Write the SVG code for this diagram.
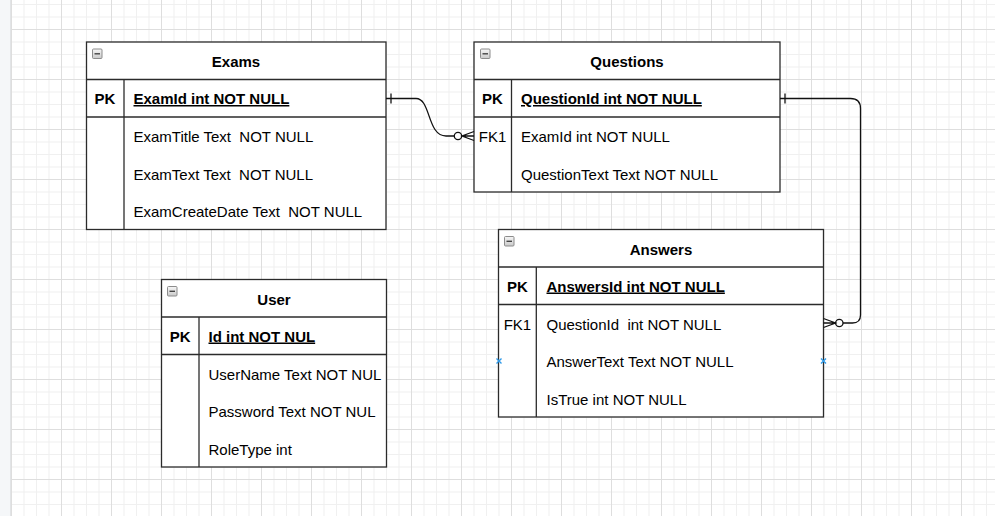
<svg xmlns="http://www.w3.org/2000/svg" width="995" height="516" viewBox="0 0 995 516">
<defs>
<pattern id="grid" x="11" y="29" width="50" height="50" patternUnits="userSpaceOnUse">
<rect width="50" height="50" fill="#ffffff"/>
<rect x="12.5" y="0" width="1" height="50" fill="#f0f0f0"/>
<rect x="25" y="0" width="1" height="50" fill="#f0f0f0"/>
<rect x="37.5" y="0" width="1" height="50" fill="#f0f0f0"/>
<rect x="0" y="12.5" width="50" height="1" fill="#f0f0f0"/>
<rect x="0" y="25" width="50" height="1" fill="#f0f0f0"/>
<rect x="0" y="37.5" width="50" height="1" fill="#f0f0f0"/>
<rect x="0" y="0" width="1" height="50" fill="#dedede"/>
<rect x="0" y="0" width="50" height="1" fill="#dedede"/>
</pattern>
<linearGradient id="icon" x1="0" y1="0" x2="0" y2="1">
<stop offset="0" stop-color="#f7f7f7"/>
<stop offset="1" stop-color="#c9c9c9"/>
</linearGradient>
<g id="collapse">
<rect x="0.5" y="0.5" width="9.5" height="9.5" rx="1" fill="url(#icon)" stroke="#8c8c8c" stroke-width="1"/>
<line x1="2.5" y1="5.3" x2="8" y2="5.3" stroke="#444" stroke-width="1.4"/>
</g>
</defs>
<style>
.box{fill:#ffffff;stroke:#2b2b2b;stroke-width:1.3}
.ln{stroke:#2b2b2b;stroke-width:1.3;fill:none}
text{font-family:"Liberation Sans",Arial,sans-serif;font-size:15px;fill:#000}
.title{font-weight:bold;text-anchor:middle}
.key{font-weight:bold;text-anchor:middle}
.fk{text-anchor:middle}
.pk{font-weight:bold;text-decoration:underline}
.txt{white-space:pre}
.edge{stroke:#111;stroke-width:1.3;fill:none}
.cross{stroke:#2f9ae8;stroke-width:1.4}
</style>
<rect width="995" height="516" fill="url(#grid)"/>
<rect x="0" y="0" width="11" height="516" fill="#f5f7f9"/>
<rect x="10" y="0" width="1" height="516" fill="#e2e4e6"/>

<g id="exams">
<rect class="box" x="86.5" y="42" width="299.5" height="187.5"/>
<line class="ln" x1="86.5" y1="79.5" x2="386" y2="79.5"/>
<line class="ln" x1="86.5" y1="117" x2="386" y2="117"/>
<line class="ln" x1="124" y1="79.5" x2="124" y2="229.5"/>
<use href="#collapse" x="92" y="48.5"/>
<text class="title" x="236" y="67">Exams</text>
<text class="key" x="105" y="104">PK</text>
<text class="pk" x="133.5" y="104">ExamId int NOT NULL</text>
<text class="txt" x="133.5" y="142" xml:space="preserve">ExamTitle Text  NOT NULL</text>
<text class="txt" x="133.5" y="179.5" xml:space="preserve">ExamText Text  NOT NULL</text>
<text class="txt" x="133.5" y="217" xml:space="preserve">ExamCreateDate Text  NOT NULL</text>
</g>

<g id="questions">
<rect class="box" x="474" y="42" width="306" height="150"/>
<line class="ln" x1="474" y1="79.5" x2="780" y2="79.5"/>
<line class="ln" x1="474" y1="117" x2="780" y2="117"/>
<line class="ln" x1="511.5" y1="79.5" x2="511.5" y2="192"/>
<use href="#collapse" x="480" y="48.5"/>
<text class="title" x="627" y="67">Questions</text>
<text class="key" x="492.5" y="104">PK</text>
<text class="pk" x="521" y="104">QuestionId int NOT NULL</text>
<text class="fk" x="492.5" y="142">FK1</text>
<text class="txt" x="521" y="142">ExamId int NOT NULL</text>
<text class="txt" x="521" y="179.5">QuestionText Text NOT NULL</text>
</g>

<g id="answers">
<rect class="box" x="498.5" y="229.5" width="325" height="187.5"/>
<line class="ln" x1="498.5" y1="267" x2="823.5" y2="267"/>
<line class="ln" x1="498.5" y1="304.5" x2="823.5" y2="304.5"/>
<line class="ln" x1="536.3" y1="267" x2="536.3" y2="417"/>
<use href="#collapse" x="504" y="236"/>
<text class="title" x="661" y="254.5">Answers</text>
<text class="key" x="517.4" y="291.5">PK</text>
<text class="pk" x="546.5" y="291.5">AnswersId int NOT NULL</text>
<text class="fk" x="517.4" y="329.5">FK1</text>
<text class="txt" x="546.5" y="329.5" xml:space="preserve">QuestionId  int NOT NULL</text>
<text class="txt" x="546.5" y="367">AnswerText Text NOT NULL</text>
<text class="txt" x="546.5" y="404.5">IsTrue int NOT NULL</text>
<path class="cross" d="M496.5,358.5 L501.5,363.5 M501.5,358.5 L496.5,363.5"/>
<path class="cross" d="M821,358.5 L826,363.5 M826,358.5 L821,363.5"/>
</g>

<g id="user">
<rect class="box" x="161.5" y="279.5" width="225" height="187.5"/>
<line class="ln" x1="161.5" y1="317" x2="386.5" y2="317"/>
<line class="ln" x1="161.5" y1="354.5" x2="386.5" y2="354.5"/>
<line class="ln" x1="199" y1="317" x2="199" y2="467"/>
<use href="#collapse" x="167" y="286"/>
<text class="title" x="274" y="304.5">User</text>
<text class="key" x="180.2" y="341.5">PK</text>
<text class="pk" x="208.5" y="341.5">Id int NOT NUL</text>
<text class="txt" x="208.5" y="379.5">UserName Text NOT NUL</text>
<text class="txt" x="208.5" y="417">Password Text NOT NUL</text>
<text class="txt" x="208.5" y="454.5">RoleType int</text>
</g>

<g id="connectors">
<g id="exams-questions">
<path class="edge" d="M386,98.5 H416 C431,98.5 427,136 446,136 H454.3"/>
<line class="edge" x1="391" y1="93.5" x2="391" y2="103.5"/>
<circle class="edge" cx="458" cy="136" r="3.7" fill="#fff"/>
<path class="edge" d="M474,131.5 L462,136 L474,140.5 M462,136 H474"/>
</g>
<g id="questions-answers">
<path class="edge" d="M780,98.5 H850.5 Q860.5,98.5 860.5,108.5 V315 Q860.5,323 852.5,323 H843"/>
<line class="edge" x1="785" y1="93.5" x2="785" y2="103.5"/>
<circle class="edge" cx="839.3" cy="323" r="3.7" fill="#fff"/>
<path class="edge" d="M823.5,318.5 L835.6,323 L823.5,327.5 M835.6,323 H823.5"/>
</g>
</g>
</svg>
